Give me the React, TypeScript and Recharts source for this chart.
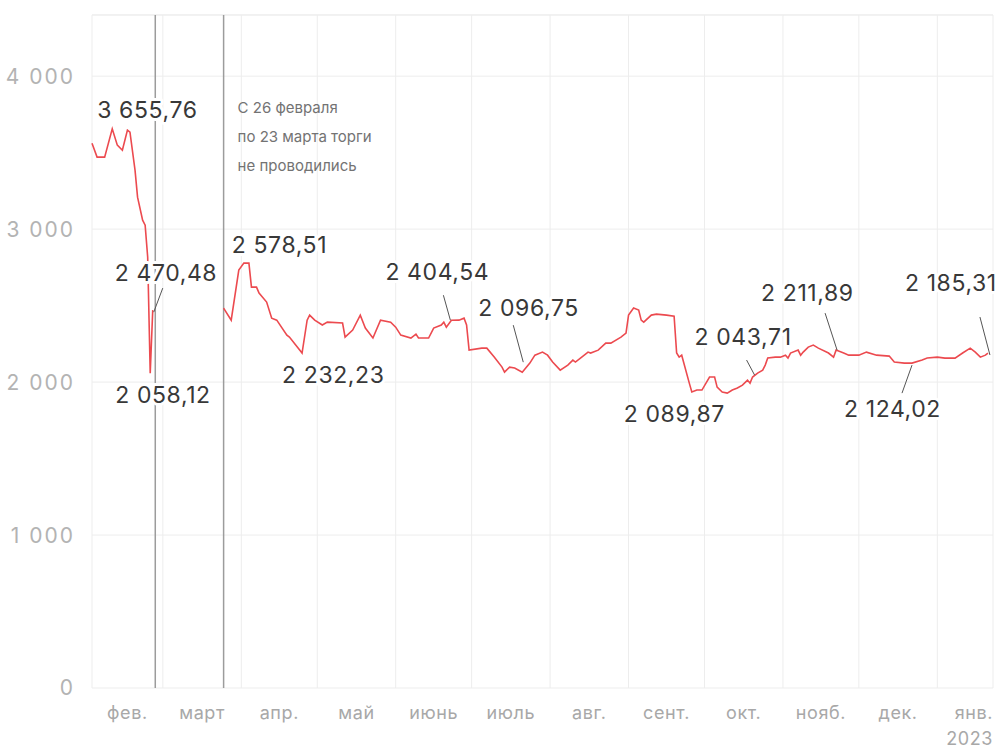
import React from "react";
import {
  LineChart,
  Line,
  XAxis,
  YAxis,
  CartesianGrid,
  ReferenceLine,
  ReferenceDot,
} from "recharts";

// индекс по датам (торги 26.02–23.03 не проводились — null даёт разрыв)
const dates = [
  "2022-02-01", "2022-02-03", "2022-02-06", "2022-02-09", "2022-02-11", "2022-02-13",
  "2022-02-15", "2022-02-16", "2022-02-18", "2022-02-19", "2022-02-21", "2022-02-22",
  "2022-02-23", "2022-02-24", "2022-02-25", "2022-03-10",
  "2022-03-25", "2022-03-28", "2022-03-31", "2022-04-02", "2022-04-04", "2022-04-05",
  "2022-04-07", "2022-04-08", "2022-04-11", "2022-04-13", "2022-04-15", "2022-04-19",
  "2022-04-20", "2022-04-25", "2022-04-27", "2022-04-28", "2022-04-30", "2022-05-03",
  "2022-05-05", "2022-05-11", "2022-05-12", "2022-05-15", "2022-05-18", "2022-05-20",
  "2022-05-23", "2022-05-26", "2022-05-30", "2022-06-01", "2022-06-03", "2022-06-07",
  "2022-06-09", "2022-06-10", "2022-06-14", "2022-06-16", "2022-06-19", "2022-06-20",
  "2022-06-21", "2022-06-23", "2022-06-26", "2022-06-28", "2022-06-29", "2022-06-30",
  "2022-07-05", "2022-07-07", "2022-07-10", "2022-07-13", "2022-07-14", "2022-07-16",
  "2022-07-18", "2022-07-21", "2022-07-24", "2022-07-26", "2022-07-29", "2022-07-31",
  "2022-08-02", "2022-08-05", "2022-08-08", "2022-08-10", "2022-08-11", "2022-08-13",
  "2022-08-16", "2022-08-17", "2022-08-20", "2022-08-23", "2022-08-25", "2022-08-29",
  "2022-08-31", "2022-09-01", "2022-09-03", "2022-09-05", "2022-09-06", "2022-09-07",
  "2022-09-10", "2022-09-12", "2022-09-16", "2022-09-19", "2022-09-20", "2022-09-21",
  "2022-09-22", "2022-09-25", "2022-09-26", "2022-09-28", "2022-09-30", "2022-10-03",
  "2022-10-05", "2022-10-06", "2022-10-08", "2022-10-10", "2022-10-12", "2022-10-14",
  "2022-10-16", "2022-10-18", "2022-10-19", "2022-10-20", "2022-10-22", "2022-10-24",
  "2022-10-25", "2022-10-26", "2022-10-29", "2022-10-31", "2022-11-02", "2022-11-03",
  "2022-11-04", "2022-11-07", "2022-11-08", "2022-11-09", "2022-11-11", "2022-11-13",
  "2022-11-15", "2022-11-19", "2022-11-21", "2022-11-22", "2022-11-25", "2022-11-27",
  "2022-12-01", "2022-12-04", "2022-12-08", "2022-12-13", "2022-12-15", "2022-12-19",
  "2022-12-22", "2022-12-26", "2022-12-28", "2023-01-01", "2023-01-04", "2023-01-08",
  "2023-01-11", "2023-01-14", "2023-01-16", "2023-01-18", "2023-01-20", "2023-01-21",
];

const values: (number | null)[] = [
  3562, 3471, 3471, 3655.76, 3549, 3516,
  3647, 3634, 3386, 3209, 3059, 3026,
  2817, 2058.12, 2470.48, null,
  2484, 2405, 2732, 2778, 2778, 2621,
  2621, 2582, 2523, 2418, 2405, 2307,
  2294, 2190, 2405, 2438, 2405, 2373,
  2392, 2386, 2294, 2340, 2438, 2353,
  2288, 2405, 2392, 2359, 2307, 2288,
  2314, 2288, 2288, 2353, 2373, 2392,
  2359, 2404.54, 2405, 2418, 2373, 2209,
  2222, 2222, 2163, 2098, 2065, 2098,
  2092, 2065, 2124, 2176, 2196, 2176,
  2131, 2078, 2111, 2144, 2131, 2157,
  2196, 2190, 2209, 2255, 2255, 2294,
  2320, 2438, 2484, 2471, 2405, 2392,
  2438, 2444, 2438, 2431, 2190, 2163,
  2176, 1993, 1935, 1948, 1948, 2033,
  2033, 1967, 1935, 1928, 1948, 1961,
  1980, 2013, 1993, 2033, 2059, 2078,
  2111, 2157, 2163, 2163, 2176, 2157,
  2190, 2209, 2176, 2196, 2229, 2242,
  2222, 2190, 2163, 2209, 2190, 2176,
  2176, 2196, 2176, 2170, 2131, 2124,
  2124, 2144, 2157, 2163, 2157, 2157,
  2190, 2222, 2196, 2163, 2176, 2190,
];

const monthStarts = [
  "2022-02-01", "2022-03-01", "2022-04-01", "2022-05-01", "2022-06-01", "2022-07-01",
  "2022-08-01", "2022-09-01", "2022-10-01", "2022-11-01", "2022-12-01", "2023-01-01",
];
const monthLabels = ["фев.", "март", "апр.", "май", "июнь", "июль", "авг.", "сент.", "окт.", "нояб.", "дек.", "янв."];
const yearLabel = "2023";
const endDate = "2023-01-23";
const yTicks = [0, 1000, 2000, 3000, 4000];
const yMax = 4400;

const gapLines = ["2022-02-26", "2022-03-25"];
const gapNote = ["С 26 февраля", "по 23 марта торги", "не проводились"];

// подписи значений
const noteDates = [
  "2022-02-09", "2022-02-25", "2022-02-24", "2022-04-02", "2022-04-25", "2022-06-23",
  "2022-07-21", "2022-09-26", "2022-10-20", "2022-11-22", "2022-12-22", "2023-01-21",
];
const noteTexts = [
  "3 655,76", "2 470,48", "2 058,12", "2 578,51", "2 232,23", "2 404,54",
  "2 096,75", "2 089,87", "2 043,71", "2 211,89", "2 124,02", "2 185,31",
];
// [dx, dy центра текста, выноска x1, y1, x2, y2] — в пикселях от точки
const noteLayout: number[][] = [
  [-15, -19],
  [-38, -37, 1, 2, 10, -22],
  [-35, 22],
  [-12, -18],
  [-20, 22],
  [-66, -48, -8, -25, -1, 0],
  [-44, -64, -9, -47, 1, -10],
  [-68, 22],
  [-58, -40, -6, -17, 2, -2],
  [-75, -57, -11, -37, 1, 0],
  [-68, 46, 0, 2, -10, 30],
  [-83, -70, -8, -36, 2, 2],
];

const FONT = "Inter, 'Noto Sans', sans-serif";
const START = Date.parse("2022-02-01");
const toDay = (d: string) => (Date.parse(d) - START) / 86400000;

const data = dates.map((d, i) => ({ t: toDay(d), v: values[i] }));
const gridDays = [...monthStarts.map(toDay), toDay(endDate)];
const xMax = toDay(endDate);
const tickDays = monthStarts.map((d, i) =>
  i < monthStarts.length - 1 ? (toDay(d) + toDay(monthStarts[i + 1])) / 2 : xMax
);

const fmt = (v: number) =>
  v >= 1000 ? `${Math.floor(v / 1000)} ${String(v % 1000).padStart(3, "0")}` : String(v);

const MonthTick = (props: any) => {
  const { x, y, payload } = props;
  const i = tickDays.indexOf(payload.value);
  const last = i === tickDays.length - 1;
  return (
    <g fill="#a8a8a8" fontSize={18} fontFamily={FONT} letterSpacing={0.6}>
      <text x={x} y={y} dy={21} textAnchor={last ? "end" : "middle"}>
        {monthLabels[i]}
      </text>
      {last && (
        <text x={x} y={y} dy={47} textAnchor="end">
          {yearLabel}
        </text>
      )}
    </g>
  );
};

const NoteLabel = (props: any) => {
  const { viewBox, idx } = props;
  const cx = viewBox.x;
  const cy = viewBox.y;
  const l = noteLayout[idx];
  return (
    <g>
      {l.length > 2 && (
        <line x1={cx + l[2]} y1={cy + l[3]} x2={cx + l[4]} y2={cy + l[5]} stroke="#555" strokeWidth={1} />
      )}
      <text
        x={cx + l[0]}
        y={cy + l[1]}
        dominantBaseline="central"
        fill="#383838"
        fontSize={23}
        letterSpacing={0.6}
        fontFamily={FONT}
        stroke="#fff"
        strokeWidth={6}
        paintOrder="stroke"
        strokeLinejoin="round"
      >
        {noteTexts[idx]}
      </text>
    </g>
  );
};

const GapNote = (props: any) => {
  const { viewBox } = props;
  return (
    <g>
      {gapNote.map((s, i) => (
        <text
          key={s}
          x={viewBox.x + 14}
          y={viewBox.y + 92 + i * 29}
          dominantBaseline="central"
          fill="#737373"
          fontSize={15}
          fontFamily={FONT}
        >
          {s}
        </text>
      ))}
    </g>
  );
};

export default function App() {
  return (
    <div style={{ position: "absolute", left: 0, top: 0, background: "#fff" }}>
      <LineChart
        width={1000}
        height={751}
        data={data}
        margin={{ top: 15, right: 7, bottom: 13, left: 0 }}
      >
        <CartesianGrid vertical={false} stroke="#ededed" />
        <XAxis
          dataKey="t"
          type="number"
          domain={[0, xMax]}
          ticks={tickDays}
          tick={<MonthTick />}
          tickLine={false}
          axisLine={false}
          tickSize={0}
          tickMargin={10}
          height={50}
          interval={0}
        />
        <YAxis
          type="number"
          domain={[0, yMax]}
          ticks={yTicks}
          tickFormatter={fmt}
          tickLine={false}
          axisLine={false}
          tickSize={0}
          tickMargin={17}
          width={92}
          tick={{ fill: "#b3b3b3", fontSize: 21, fontFamily: FONT, letterSpacing: 2 }}
        />
        <ReferenceLine y={yMax} stroke="#ededed" />
        {gridDays.map((d) => (
          <ReferenceLine key={d} x={d} stroke="#ededed" />
        ))}
        {gapLines.map((d, i) => (
          <ReferenceLine
            key={d}
            x={toDay(d)}
            stroke="#9c9c9c"
            strokeWidth={1.5}
            label={i === 1 ? <GapNote /> : undefined}
          />
        ))}
        <Line
          type="linear"
          dataKey="v"
          stroke="#ec4a4f"
          strokeWidth={1.6}
          dot={false}
          connectNulls={false}
          isAnimationActive={false}
        />
        {noteDates.map((d, i) => (
          <ReferenceDot
            key={d}
            x={toDay(d)}
            y={values[dates.indexOf(d)] as number}
            r={0}
            fill="none"
            stroke="none"
            label={<NoteLabel idx={i} />}
          />
        ))}
      </LineChart>
    </div>
  );
}
